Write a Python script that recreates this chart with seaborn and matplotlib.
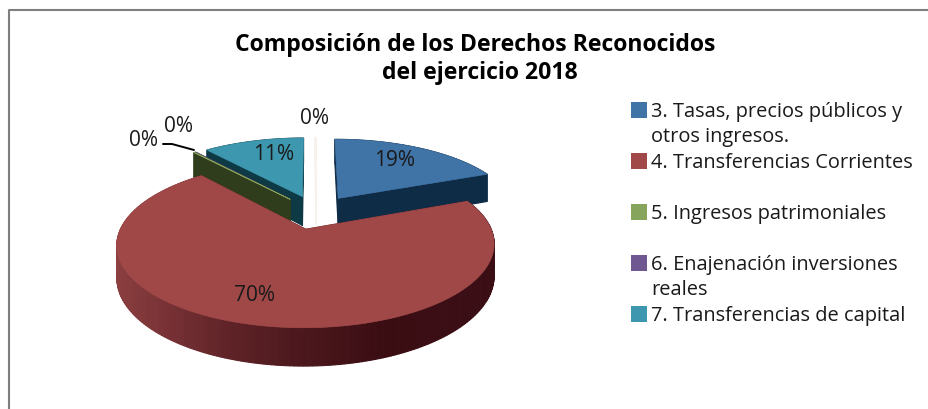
# plot.py
# Composicion de los Derechos Reconocidos 2018: exploded 3D pie, drawn by hand in perspective.
import numpy as np
import pandas as pd
import matplotlib
matplotlib.use("Agg")
import matplotlib.pyplot as plt
from matplotlib.colors import LinearSegmentedColormap
import seaborn as sns

# -------------------------------------------------------
# Data
# -------------------------------------------------------
title_lines = ["Composición de los Derechos Reconocidos", "del ejercicio 2018"]
categories = ["3", "4", "5", "6", "7", "8"]
values = [19.0, 70.0, 0.1, 0.1, 11.0, 0.1]
pct_labels = ["19%", "70%", "0%", "0%", "11%", "0%"]
legend_lines = [
    ["3. Tasas, precios públicos y", "otros ingresos."],
    ["4. Transferencias Corrientes"],
    ["5. Ingresos patrimoniales"],
    ["6. Enajenación inversiones", "reales"],
    ["7. Transferencias de capital"],
]
top_colours = ["#4073A6", "#A04848", "#86A45C", "#6F5792", "#3D97AF", "#FBF3EA"]
side_colours = ["#0F2C47", "#6A2A2A", "#2F3D1C", "#2A2040", "#0E3A45", "#F4F1EC"]

# -------------------------------------------------------
# Layout (pixels, the axes cover the whole figure)
# -------------------------------------------------------
CX, CY = 316, 213
RX, RY, PERSP = 178, 74, 0.178
DEPTH = 30
EXPLODE = 0.23
label_pos = [(395, 161), (255, 296), (144, 141), (179, 127), (274, 155), (315, 118)]
legend_y = [112, 163, 214, 265, 316]
LINE_H = 25.5

sns.set_theme(style="white")
plt.rcParams["font.family"] = ["Open Sans", "DejaVu Sans"]

fig = plt.figure(figsize=(9.29, 4.10), dpi=100)
ax = fig.add_axes([0, 0, 1, 1])
ax.set_xlim(0, 929)
ax.set_ylim(410, 0)
ax.axis("off")


def project(X, Y, drop=0.0):
    # flat pie coordinates to screen, further away is smaller
    w = 1 + PERSP * Y
    return CX + RX * X / w, CY - RY * Y / w + drop / w


def face(X, Y, colour):
    x, y = project(np.asarray(X), np.asarray(Y))
    ax.fill(x, y, color=colour, lw=0.5)


def side(X0, Y0, X1, Y1, colour):
    xa, ya = project(np.array([X0, X1]), np.array([Y0, Y1]))
    xb, yb = project(np.array([X1, X0]), np.array([Y1, Y0]), DEPTH)
    ax.fill(np.r_[xa, xb], np.r_[ya, yb], color=colour, lw=0.8)


rim_cmap = LinearSegmentedColormap.from_list(
    "rim", ["#8E4040", "#7A3337", "#5E2327", "#4A171C", "#3A0D13", "#3A0E14"]
)

# -------------------------------------------------------
# Slices, back to front
# -------------------------------------------------------
df = pd.DataFrame({"cat": categories, "value": values, "top": top_colours, "side": side_colours})
edges = np.r_[0, np.cumsum(df["value"]) / df["value"].sum() * 2 * np.pi]
df["start"] = edges[:-1]
df["end"] = edges[1:]

for i in [5, 4, 3, 2, 0, 1]:
    row = df.iloc[i]
    mid = (row["start"] + row["end"]) / 2
    ox, oy = EXPLODE * np.sin(mid), EXPLODE * np.cos(mid)
    th = np.linspace(row["start"], row["end"], max(3, int((row["end"] - row["start"]) / 0.02)))
    rim_x, rim_y = ox + np.sin(th), oy + np.cos(th)

    # outer wall in small bands, this is what gives the shading on the red one
    for k in range(len(th) - 1):
        if row["cat"] == "4":
            colour = rim_cmap(np.clip((rim_x[k] + 1.05) / 1.7, 0, 1))
        else:
            colour = row["side"]
        side(rim_x[k], rim_y[k], rim_x[k + 1], rim_y[k + 1], colour)

    # cut faces
    side(ox, oy, rim_x[0], rim_y[0], row["side"])
    side(ox, oy, rim_x[-1], rim_y[-1], row["side"])

    # top
    face(np.r_[ox, rim_x], np.r_[oy, rim_y], row["top"])

for (x, y), txt in zip(label_pos, pct_labels):
    ax.text(x, y, txt, ha="center", va="center", fontsize=15, color="#1A1A1A")

# leader line for the 0% of Ingresos patrimoniales
ax.plot([163, 172, 194], [145, 145, 151], color="black", lw=1.4)

# -------------------------------------------------------
# Legend
# -------------------------------------------------------
legend_df = pd.DataFrame({"x": 639, "y": legend_y[:5], "cat": categories[:5]})
legend_df["y"] = legend_df["y"] - 1
sns.scatterplot(
    data=legend_df, x="x", y="y", hue="cat",
    palette=dict(zip(categories, top_colours)),
    marker="s", s=130, linewidth=0, legend=False, ax=ax,
)
ax.set_xlim(0, 929)
ax.set_ylim(410, 0)
ax.axis("off")

for y0, lines in zip(legend_y, legend_lines):
    for j, line in enumerate(lines):
        ax.text(651, y0 + j * LINE_H, line, ha="left", va="center", fontsize=14.4, color="#1A1A1A")

# -------------------------------------------------------
# Title and frame
# -------------------------------------------------------
ax.text(475, 45, title_lines[0], ha="center", va="center", fontsize=16.6, fontweight="bold", color="black")
ax.text(480, 73, title_lines[1], ha="center", va="center", fontsize=16.6, fontweight="bold", color="black")
ax.plot([9.5, 9.5, 929], [410, 10.5, 10.5], color="#7F7F7F", lw=1.5)

fig.savefig("out.png", dpi=100)
